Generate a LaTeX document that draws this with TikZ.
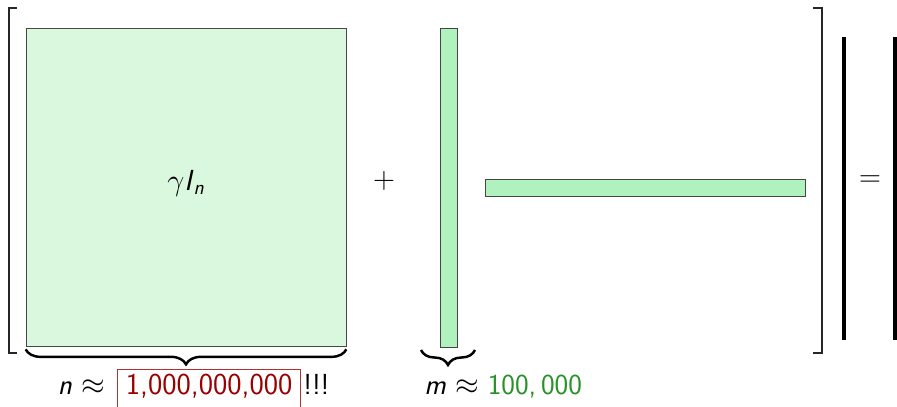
\documentclass[tikz,border=0pt]{standalone}
\usepackage{amsmath, amssymb}
\usepackage{tikz}
\usetikzlibrary{positioning,decorations.pathreplacing}
\definecolor{PaleGreen}{RGB}{218, 248, 222}
\definecolor{MintGreen}{RGB}{176, 242, 190}
\definecolor{EdgeGray}{RGB}{70, 70, 70}
\definecolor{BigRed}{RGB}{153, 0, 0}
\definecolor{BoxRed}{RGB}{178, 48, 48}
\definecolor{SmallGreen}{RGB}{40, 145, 40}

\begin{document}
\begin{tikzpicture}[font=\sffamily\fontsize{16.5}{20}\selectfont,
    matbox/.style={rectangle, draw=EdgeGray, fill=PaleGreen, thin, inner sep=0pt},
    lowrank/.style={rectangle, draw=EdgeGray, fill=MintGreen, thin, inner sep=0pt},
    sqbrack/.style={draw=black!85, line width=1.2pt},
    bigbar/.style={draw=black, line width=2.3pt},
    underbrace/.style={decorate, decoration={brace, mirror, amplitude=0.3cm}, line width=1.4pt}
]
\useasboundingbox (0, 0) rectangle (17.94, 8.14);

% Left bracket
\draw[sqbrack] (0.34, 7.98) -- (0.18, 7.98) -- (0.18, 1.08) -- (0.34, 1.08);

% Identity block
\node[matbox, minimum width=6.4cm, minimum height=6.36cm] (ident) at (3.72, 4.40) {};
\node (identlabel) at (3.72, 4.48) {$\gamma \textsf{\textit{I}}_{\textsf{\textit{n}}}$};
\draw[underbrace] (ident.south west) ++(0, -0.06) coordinate (nbl) -- (ident.south east |- nbl) coordinate (nbr);
\node[anchor=base east] (nsym) at (2.22, 0.24) {\textit{n} $\approx$};
\node[draw=BoxRed, text=BigRed, anchor=base west, font=\sffamily\LARGE, inner xsep=0.17cm, inner ysep=0.1cm, text depth=0.3cm] (nbox) at (2.34, 0.24) {1,000,000,000};
\node[anchor=base west, inner sep=1pt] (nexcl) at (nbox.base east) {!!!};

% Plus
\node (plus) at (7.68, 4.52) {$+$};

% Tall factor
\node[lowrank, minimum width=0.34cm, minimum height=6.38cm] (tall) at (8.97, 4.39) {};
\draw[underbrace] (8.42, 1.14) coordinate (mbl) -- (9.50, 1.14) coordinate (mbr);
\node[anchor=base west, inner sep=0pt] (msym) at (8.48, 0.24) {\textit{m} $\approx$ \textcolor{SmallGreen}{100,\,000}};

% Wide factor
\node[lowrank, minimum width=6.4cm, minimum height=0.34cm] (wide) at (12.90, 4.39) {};

% Right bracket
\draw[sqbrack] (16.26, 7.98) -- (16.44, 7.98) -- (16.44, 1.08) -- (16.26, 1.08);

% Equals and result
\draw[bigbar] (16.88, 7.40) -- (16.88, 1.34);
\node (equal) at (17.40, 4.52) {$=$};
\draw[bigbar] (17.90, 7.40) -- (17.90, 1.34);

\end{tikzpicture}
\end{document}
